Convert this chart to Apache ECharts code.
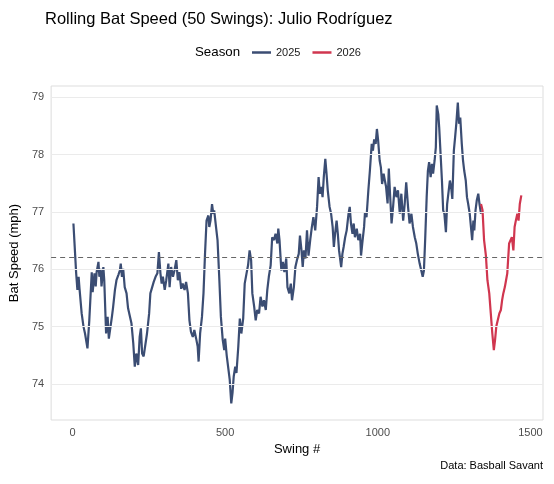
<!DOCTYPE html>
<html>
<head>
<meta charset="utf-8">
<script src="https://cdn.jsdelivr.net/npm/echarts@6/dist/echarts.min.js"></script>
<style>
html,body{margin:0;padding:0;background:#fff;}
#chart{width:554px;height:484px;}
</style>
</head>
<body>
<div id="chart"></div>
<script>
const swings2025 = [3,12,16,20,23,30,36,41,49,55,63,66,72,76,79,85,88,92,95,101,104,110,115,119,125,129,133,139,144,150,155,158,162,166,171,177,182,188,193,199,204,209,215,220,224,228,233,239,244,251,255,261,266,272,278,283,288,292,296,302,307,314,318,323,329,334,340,345,350,356,361,367,372,378,383,388,394,399,405,410,413,418,424,429,434,439,445,448,452,457,461,464,470,475,481,486,492,497,500,505,510,515,520,524,528,533,537,543,548,553,559,564,570,575,580,585,589,595,600,605,611,616,622,627,633,638,643,649,654,660,665,671,674,678,684,689,694,700,704,710,715,719,
725,730,735,741,745,750,754,758,763,768,773,779,784,789,795,801,806,810,815,819,823,828,832,836,842,847,852,856,860,865,869,873,880,884,888,893,898,904,908,912,917,921,925,931,936,942,945,949,955,958,963,969,974,980,984,988,993,997,1001,1006,1010,1014,1019,1023,1027,1032,1036,1040,1045,1050,1055,1061,1066,1072,1077,1083,1088,1093,1099,1104,1110,1115,1121,1126,1131,1137,1142,1147,1151,1155,1160,1164,1168,1173,1177,1181,1186,1190,1193,1198,1201,1205,1210,1214,1218,1223,1227,1231,1236,1240,1244,1249,1253,1257,1262,1266,1270,1275,1279,1283,1288,1292,1296,1301,1305,1309,1313,1316,1320,1324,1329,1333,1338];
const speed2025 = [76.80,75.93,75.64,75.87,75.66,75.23,75.00,74.88,74.62,75.11,75.95,75.60,75.93,75.70,75.95,76.13,75.87,76.01,75.70,76.04,75.81,74.88,75.17,74.79,74.82,75.17,75.34,75.64,75.81,75.90,75.98,76.10,75.87,76.01,75.69,75.58,75.32,75.29,75.06,74.71,74.30,74.53,74.33,74.82,74.97,74.53,74.48,74.45,74.88,75.23,75.58,75.69,75.78,75.87,75.93,76.30,75.93,75.75,75.87,75.64,75.81,76.10,75.69,76.04,75.87,75.98,76.16,75.81,75.95,75.66,75.75,75.64,75.78,75.58,75.11,74.91,74.82,74.94,74.79,74.65,74.39,74.88,75.17,75.58,76.27,76.85,76.94,76.74,76.85,77.14,76.97,77.03,76.74,76.51,75.81,75.17,74.77,74.59,74.79,74.50,74.53,74.07,73.66,73.84,74.13,74.30,74.19,74.65,75.14,74.88,75.14,75.75,75.93,76.07,76.33,76.16,75.58,75.35,75.11,75.29,75.23,75.52,75.35,75.46,75.29,75.64,75.87,76.07,76.56,76.51,76.62,76.45,76.71,76.51,75.98,76.13,75.95,76.19,75.69,75.58,75.75,75.46,
75.69,76.04,76.16,76.27,76.59,76.33,76.04,76.33,76.19,76.68,76.24,76.53,76.74,76.91,76.68,77.09,77.61,77.32,77.44,77.26,77.61,77.93,77.67,77.38,77.09,76.97,76.74,76.39,76.62,76.85,76.62,76.33,76.04,76.27,76.39,76.56,76.68,76.97,77.09,76.80,76.62,76.80,76.56,76.71,76.51,76.62,76.24,76.45,76.74,77.00,76.91,77.38,77.72,78.19,78.07,78.27,78.19,78.45,78.25,77.90,77.78,77.49,77.67,77.55,77.44,77.15,77.76,77.32,76.80,77.09,77.44,77.26,77.38,76.97,77.32,76.85,77.14,77.52,77.09,76.80,76.97,76.74,76.56,76.45,76.27,76.10,76.13,75.87,75.98,76.51,77.26,77.72,77.87,77.61,77.84,77.67,77.90,78.13,78.86,78.71,78.48,78.07,77.55,77.03,76.97,76.65,77.14,77.32,77.55,77.44,77.23,78.07,78.30,78.54,78.91,78.54,78.65,78.19,77.90,77.72,77.55,77.26,77.14,76.97,76.74,76.51,76.85,76.68,77.03,77.20,77.32,77.14,76.97];
const swings2026 = [1338,1343,1348,1354,1359,1365,1370,1375,1380,1384,1388,1394,1398,1403,1407,1411,1416,1420,1424,1430,1435,1439,1444,1448,1452,1457,1461,1465,1470];
const speed2026 = [77.14,77.03,76.51,76.24,75.81,75.58,75.23,74.88,74.59,74.77,75.00,74.97,75.23,75.29,75.46,75.58,75.69,75.81,75.93,76.45,76.45,76.56,76.33,76.74,76.85,76.97,76.85,77.14,77.29];
const meanSpeed = 76.21;
const xTicks = [0,500,1000,1500];
const yTicks = [74,75,76,77,78,79];
const seasons = ['2025','2026'];

const FONT = 'Liberation Sans, Arial, Helvetica, sans-serif';
const chart = echarts.init(document.getElementById('chart'));
const zip = (xs, ys) => xs.map((x, i) => [x, ys[i]]);

chart.setOption({
  animation: false,
  backgroundColor: '#ffffff',
  textStyle: { fontFamily: FONT },
  title: [
    { text: 'Rolling Bat Speed (50 Swings): Julio Rodríguez', left: 45, top: 11, padding: 0,
      textStyle: { fontSize: 16.5, fontWeight: 'normal', color: '#000', fontFamily: FONT } },
    { text: 'Season', left: 195, top: 46, padding: 0,
      textStyle: { fontSize: 13.3, fontWeight: 'normal', color: '#000', fontFamily: FONT } },
    { text: 'Data: Basball Savant', right: 11, top: 460, padding: 0,
      textStyle: { fontSize: 11, fontWeight: 'normal', color: '#000', fontFamily: FONT } }
  ],
  legend: {
    data: seasons,
    left: 252, top: 47, padding: 0,
    icon: 'rect', itemWidth: 19, itemHeight: 2.5, itemGap: 12,
    textStyle: { fontSize: 11, color: '#1a1a1a', fontFamily: FONT }
  },
  grid: {
    left: 48, right: 11, top: 86, bottom: 64,
    show: true, borderColor: '#dddddd', borderWidth: 1, backgroundColor: 'transparent'
  },
  xAxis: {
    type: 'value', min: -70, max: 1541,
    axisLine: { show: false }, axisTick: { show: false }, splitLine: { show: false },
    axisLabel: { customValues: xTicks, formatter: v => String(v), color: '#4d4d4d', fontSize: 11, margin: 7, fontFamily: FONT },
    name: 'Swing #', nameLocation: 'middle', nameGap: 22,
    nameTextStyle: { fontSize: 13, color: '#000', fontFamily: FONT }
  },
  yAxis: {
    type: 'value', min: 73.37, max: 79.2,
    axisLine: { show: false }, axisTick: { show: false }, splitLine: { show: false },
    axisLabel: { customValues: yTicks, formatter: v => String(v), color: '#4d4d4d', fontSize: 11, margin: 7, fontFamily: FONT },
    name: 'Bat Speed (mph)', nameLocation: 'middle', nameGap: 21,
    nameTextStyle: { fontSize: 13, color: '#000', fontFamily: FONT }
  },
  series: [
    {
      name: 'grid', type: 'line', data: [], z: 1, silent: true,
      markLine: {
        silent: true, symbol: 'none', label: { show: false }, animation: false,
        lineStyle: { color: '#ebebeb', width: 1, type: 'solid' },
        data: yTicks.map(v => ({ yAxis: v }))
      }
    },
    {
      name: '2025', type: 'line', data: zip(swings2025, speed2025), z: 3,
      showSymbol: false, symbol: 'none', color: '#3B4D73',
      lineStyle: { width: 2.2, color: '#3B4D73' },
      markLine: {
        silent: true, symbol: 'none', label: { show: false }, animation: false,
        lineStyle: { color: '#666666', width: 1, type: [5, 4] },
        data: [{ yAxis: meanSpeed }]
      }
    },
    {
      name: '2026', type: 'line', data: zip(swings2026, speed2026), z: 3,
      showSymbol: false, symbol: 'none', color: '#D0364F',
      lineStyle: { width: 2.2, color: '#D0364F' }
    }
  ]
});
</script>
</body>
</html>
